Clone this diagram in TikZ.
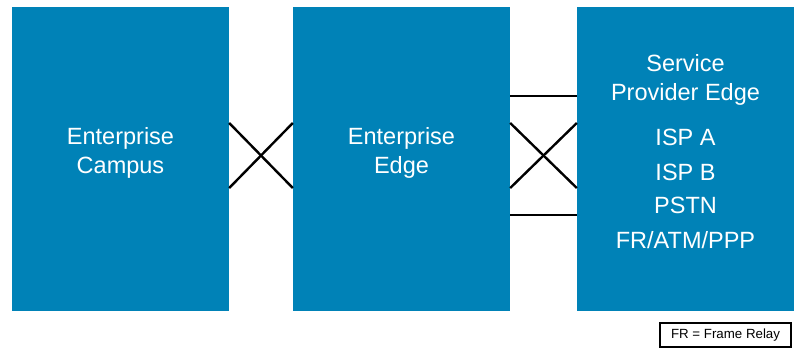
\documentclass[tikz,border=0pt]{standalone}
\usepackage{fontspec}
\setmainfont{Liberation Sans}
\definecolor{zoneblue}{RGB}{0,130,183}
\begin{document}
\begin{tikzpicture}[x=1pt,y=-1pt,
        zone/.style={fill=zoneblue,minimum width=217pt,minimum height=304pt,inner sep=0pt},
        zonetext/.style={text=white,align=center,inner sep=0pt,anchor=north,font=\fontsize{23.5}{28.5}\selectfont},
        link/.style={line width=2.4pt}]
    \useasboundingbox (0,0) rectangle (799,349);
    % blocks
    \node[zone] (campus) at (120.5,159) {};
    \node[zone] (edge) at (401.5,159) {};
    \node[zone] (provider) at (685.5,159) {};
    \node[zonetext] (campustext) at (120.5,127.5) {Enterprise\\Campus};
    \node[zonetext] (edgetext) at (401.5,127.5) {Enterprise\\Edge};
    \node[zonetext,font=\fontsize{23.5}{29}\selectfont] (providertext) at (685.5,54.5)
        {Service\\Provider Edge\\[16pt]ISP A\\[6pt]ISP B\\[4pt]PSTN\\[6pt]FR/ATM/PPP};
    % links
    \draw[link] ([yshift=36pt]campus.east) -- ([yshift=-29pt]edge.west);
    \draw[link] ([yshift=-29pt]campus.east) -- ([yshift=36pt]edge.west);
    \draw[link] ([yshift=63pt]edge.east) -- ([yshift=63pt]provider.west);
    \draw[link] ([yshift=36pt]edge.east) -- ([yshift=-29pt]provider.west);
    \draw[link] ([yshift=-29pt]edge.east) -- ([yshift=36pt]provider.west);
    \draw[link] ([yshift=-56pt]edge.east) -- ([yshift=-56pt]provider.west);
    % legend
    \node[draw,line width=1.8pt,minimum width=131pt,minimum height=24pt,inner sep=0pt,
        font=\fontsize{13.3}{15}\selectfont] (legend) at (725.5,335) {FR = Frame Relay};
\end{tikzpicture}
\end{document}
